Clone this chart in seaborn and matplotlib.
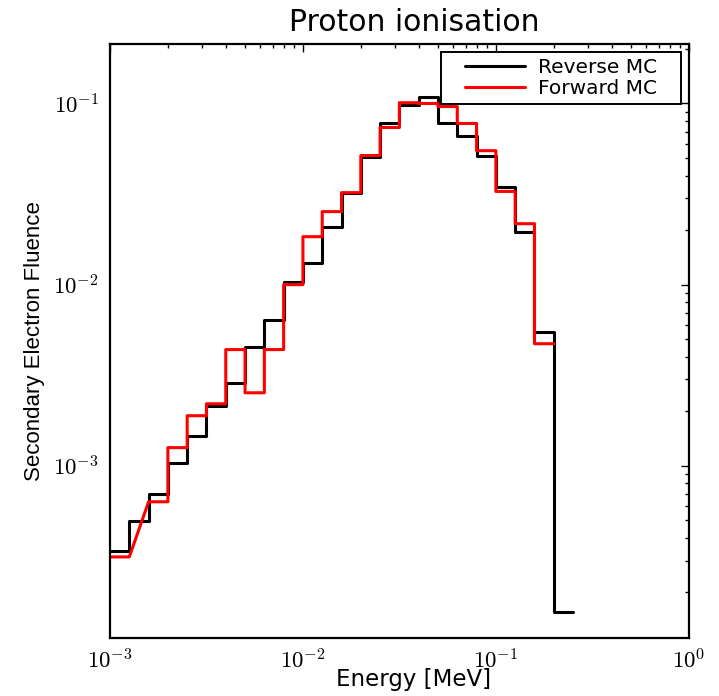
import numpy as np
import pandas as pd
import matplotlib
matplotlib.use("Agg")
import matplotlib.pyplot as plt
from matplotlib.ticker import FuncFormatter, LogLocator
from matplotlib.offsetbox import DrawingArea
import seaborn as sns

# Log-spaced bins, 10 per decade, starting at 1e-3 MeV
bin_start_exp = -3
bins_per_decade = 10

reverse_mc = [3.39e-4, 4.97e-4, 7.0e-4, 1.03e-3, 1.46e-3, 2.14e-3, 2.88e-3, 4.54e-3,
              6.41e-3, 1.04e-2, 1.32e-2, 2.09e-2, 3.22e-2, 5.09e-2, 7.76e-2, 9.87e-2,
              1.09e-1, 7.85e-2, 6.58e-2, 5.16e-2, 3.44e-2, 1.96e-2, 5.50e-3, 1.56e-4]
forward_mc = [3.14e-4, np.nan, 6.33e-4, 1.26e-3, 1.89e-3, 2.20e-3, 4.38e-3, 2.53e-3,
              4.38e-3, 1.0e-2, 1.84e-2, 2.53e-2, 3.22e-2, 5.16e-2, 7.37e-2, 1.01e-1,
              1.00e-1, 9.62e-2, 7.76e-2, 5.49e-2, 3.27e-2, 2.17e-2, 4.72e-3]
series_names = ["Reverse MC", "Forward MC"]
series_colors = ["black", "red"]


def step_frame(values, name):
    n = len(values)
    edges = 10.0 ** (bin_start_exp + np.arange(n + 1) / bins_per_decade)
    xs, ys = [], []
    for i, v in enumerate(values):
        xs += [edges[i], edges[i + 1]]
        ys += [v, v]
    df = pd.DataFrame({"x": xs, "y": ys})
    df = df.dropna().reset_index(drop=True)
    df["series"] = name
    return df


sns.set_style("white")
plt.rcParams["font.family"] = ["DejaVu Sans"]
plt.rcParams["mathtext.fontset"] = "cm"
for key in ["text.color", "axes.labelcolor", "xtick.color", "ytick.color"]:
    plt.rcParams[key] = "black"

fig = plt.figure(figsize=(7.19, 6.96), dpi=100)
ax = fig.add_axes([0.153, 0.0833, 0.805, 0.854])

for vals, name, col in zip([reverse_mc, forward_mc], series_names, series_colors):
    df = step_frame(vals, name)
    sns.lineplot(data=df, x="x", y="y", sort=False, estimator=None, color=col,
                 linewidth=2.2, label=name, ax=ax)

ax.set_xscale("log")
ax.set_yscale("log")
ax.set_xlim(1e-3, 1)
ax.set_ylim(1.12e-4, 0.214)

fmt = FuncFormatter(lambda v, pos: r"$10^{%d}$" % int(round(np.log10(v))))
ax.xaxis.set_major_formatter(fmt)
ax.yaxis.set_major_formatter(fmt)
ax.xaxis.set_minor_locator(LogLocator(base=10, subs=np.arange(2, 10)))
ax.yaxis.set_minor_locator(LogLocator(base=10, subs=np.arange(2, 10)))
ax.xaxis.set_minor_formatter(FuncFormatter(lambda v, pos: ""))
ax.yaxis.set_minor_formatter(FuncFormatter(lambda v, pos: ""))

ax.tick_params(which="both", top=True, right=True, direction="in", colors="black")
ax.tick_params(which="major", length=6, width=1, labelsize=16.5, pad=8)
ax.tick_params(which="minor", length=3, width=1)
for s in ax.spines.values():
    s.set_linewidth(1.6)
    s.set_color("black")

ax.set_xlabel("Energy [MeV]", fontsize=16.5)
ax.xaxis.set_label_coords(0.525, -0.05)
ax.set_ylabel("Secondary Electron Fluence", fontsize=16, labelpad=6,
              family=["Liberation Sans", "DejaVu Sans"])
ax.set_title("Proton ionisation", fontsize=21.5, pad=9)
ax.title.set_x(0.525)

leg = ax.legend(loc="upper right", fontsize=14.5, fancybox=False, framealpha=1,
                edgecolor="black", handlelength=3.0, borderaxespad=0.4,
                borderpad=0.3, labelspacing=0.1, handletextpad=0.6)
leg.get_frame().set_linewidth(1.4)
for t in leg.get_texts():
    t.set_color("black")
# extra horizontal padding inside the legend frame
try:
    hb = leg._legend_handle_box
    hb.sep = 0
    hb._children = [DrawingArea(13, 1)] + list(hb._children) + [DrawingArea(13, 1)]
except Exception:
    pass

fig.savefig("out.png", dpi=100)
